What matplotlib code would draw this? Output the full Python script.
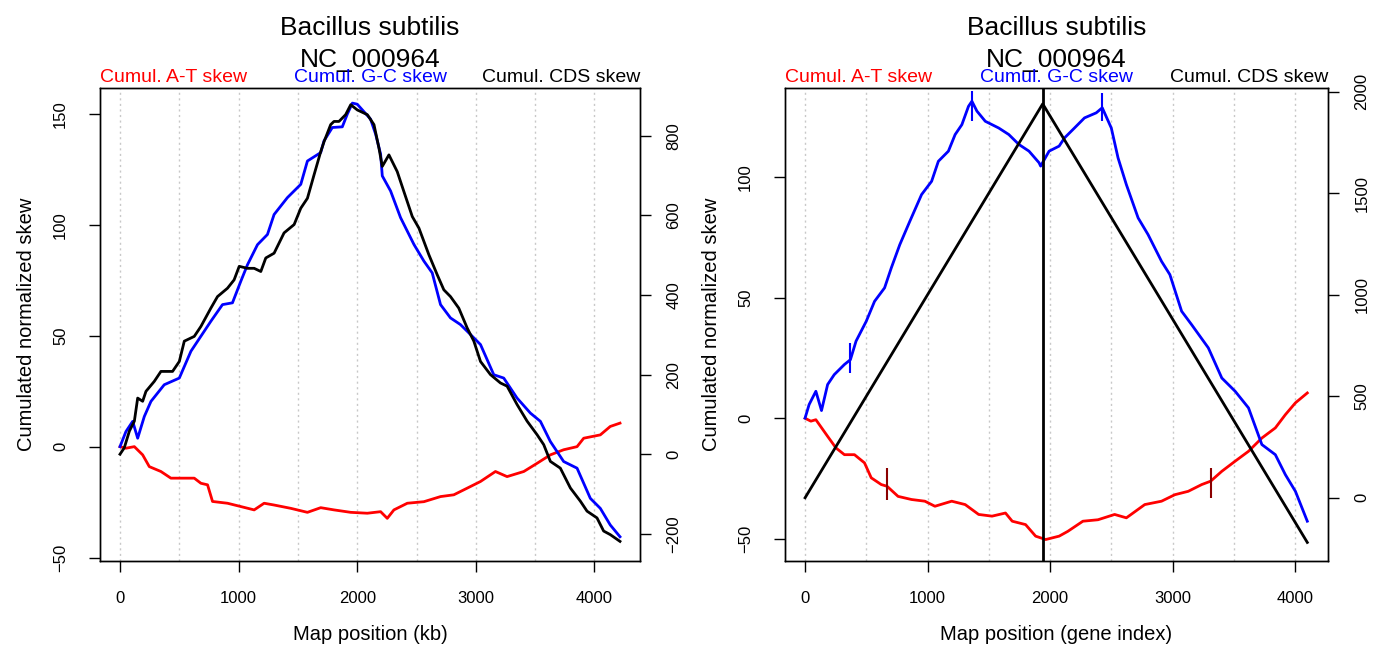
import matplotlib
matplotlib.use("Agg")
import matplotlib.pyplot as plt

plt.rcParams["font.family"] = ["Liberation Sans", "DejaVu Sans"]

# ---- left panel: map position in kb ----
at_kb_x = [0, 50, 121, 191, 247, 345, 429, 514, 626, 682, 738, 780, 906, 1019, 1131, 1215,
           1299, 1440, 1580, 1692, 1804, 1945, 2085, 2197, 2253, 2309, 2422, 2562, 2702,
           2814, 2927, 3039, 3165, 3263, 3404, 3516, 3628, 3740, 3853, 3909, 4049, 4133, 4215]
at_kb_y = [0, -0.7, 0, -3.7, -9, -11.2, -14.2, -14.2, -14.2, -16.5, -17.2, -24.7, -25.5, -27,
           -28.5, -25.5, -26.3, -27.8, -29.6, -27.5, -28.5, -29.6, -30, -29.3, -32.3, -28.5,
           -25.5, -24.8, -22.5, -21.7, -18.7, -15.7, -11.2, -13.5, -11.2, -7.5, -3.7, -1.4,
           0, 3.8, 5.3, 9.1, 10.6]

gc_kb_x = [0, 50, 107, 149, 205, 261, 373, 500, 598, 766, 864, 948, 1019, 1075, 1159, 1243,
           1299, 1411, 1524, 1580, 1692, 1720, 1790, 1874, 1916, 1959, 2000, 2112, 2155,
           2197, 2211, 2281, 2365, 2478, 2562, 2632, 2702, 2786, 2870, 2955, 3039, 3151,
           3235, 3347, 3460, 3544, 3628, 3740, 3853, 3965, 4049, 4133, 4215]
gc_kb_y = [0, 6.8, 11.4, 3.8, 13.6, 20.4, 27.9, 30.9, 43, 56.5, 64, 64.8, 74.6, 82, 91,
           95.6, 104.6, 112.2, 118.2, 128.7, 132.5, 137.8, 143.8, 144.1, 149.8, 154.8, 154.3,
           147.6, 140.8, 131.8, 122, 115.2, 103.2, 91.1, 83.6, 78.3, 64, 58, 55, 50.5, 46,
           32.4, 30.9, 21.9, 15.1, 11.4, 2.3, -6.7, -9.7, -23.3, -27.8, -35.3, -40.6]

cds_kb_x = [0, 36, 79, 121, 149, 191, 219, 289, 345, 443, 500, 542, 626, 682, 766, 822, 906,
            962, 1005, 1075, 1131, 1187, 1229, 1299, 1383, 1468, 1524, 1580, 1636, 1692,
            1720, 1776, 1804, 1846, 1902, 1945, 2000, 2085, 2141, 2183, 2211, 2267, 2337,
            2393, 2464, 2520, 2604, 2674, 2730, 2786, 2856, 2927, 2983, 3039, 3123, 3207,
            3263, 3347, 3432, 3516, 3572, 3628, 3712, 3797, 3881, 3937, 4021, 4077, 4133, 4215]
cds_kb_y = [0, 16, 58, 83, 141, 133, 158, 183, 208, 208, 233, 284, 296, 321, 367, 396, 417,
            438, 472, 467, 467, 459, 493, 505, 556, 577, 618, 643, 702, 760, 785, 828, 836,
            836, 853, 878, 865, 853, 828, 769, 723, 752, 710, 660, 597, 568, 501, 451, 413,
            396, 367, 317, 284, 233, 200, 179, 171, 125, 83, 49, 24, -18, -35, -85, -118,
            -143, -160, -193, -202, -219]

# ---- right panel: map position as gene index ----
at_gene_x = [0, 47, 88, 184, 252, 321, 403, 485, 540, 622, 669, 759, 869, 978, 1060, 1197,
             1307, 1417, 1526, 1636, 1691, 1800, 1882, 1964, 2074, 2145, 2268, 2391, 2527,
             2623, 2773, 2910, 3019, 3128, 3238, 3311, 3402, 3511, 3620, 3729, 3839, 3921,
             4003, 4100]
at_gene_y = [0, -1.2, -0.6, -7.5, -12.3, -15.1, -15.1, -18.5, -24.7, -27.5, -28.2, -32.4,
             -33.7, -34.4, -36.5, -34.4, -35.8, -39.9, -40.6, -39.3, -42.7, -44.1, -48.9,
             -50.3, -48.9, -46.9, -42.7, -42.1, -39.9, -41.3, -35.8, -34.4, -31.7, -30.3,
             -27.5, -26.1, -22, -17.8, -13.7, -8.2, -4, 1.5, 6.4, 10.5]

gc_gene_x = [0, 33, 88, 134, 184, 238, 321, 370, 416, 499, 567, 649, 704, 773, 855, 951,
             1033, 1088, 1170, 1225, 1280, 1334, 1362, 1403, 1471, 1581, 1663, 1745, 1828,
             1910, 1923, 1992, 2074, 2118, 2199, 2281, 2377, 2426, 2500, 2555, 2623, 2719,
             2800, 2910, 2978, 3074, 3156, 3292, 3402, 3511, 3620, 3729, 3839, 3921, 4003, 4100]
gc_gene_y = [0.1, 5.7, 11.2, 3.2, 14, 18.1, 22.3, 24.3, 32, 40.2, 48.5, 54.1, 62.4, 72, 81.7,
             92.8, 98.3, 106.6, 110.8, 117.7, 121.8, 129.4, 131.5, 127.4, 123.2, 120.4, 117.7,
             113.6, 110.8, 106, 104.6, 110.8, 112.9, 116.3, 120.4, 124.6, 126.7, 128.8, 120.4,
             108, 96.9, 83.1, 76.2, 65.1, 59.6, 44.4, 38.8, 29.2, 16.7, 11.2, 4.3, -10.9,
             -15.1, -23.4, -30.3, -42.7]

cds_gene_x = [0, 1940, 4100]
cds_gene_y = [0, 1940, -220]
origin_gene = 1940

gc_marks_x = [370, 1362, 2426]
gc_marks_lo = [18.8, 123.2, 123.2]
gc_marks_hi = [31.3, 135.7, 135.0]
at_marks_x = [669, 3311]
at_marks_lo = [-33.7, -33.1]
at_marks_hi = [-20.6, -20.6]

grid_x = [0, 500, 1000, 1500, 2000, 2500, 3000, 3500, 4000]
x_ticks = [0, 1000, 2000, 3000, 4000]

fig = plt.figure(figsize=(13.85, 6.54), dpi=100)
W, H = 1385, 654


def make_axes(left, right):
    return fig.add_axes([left / W, 1 - 560.5 / H, (right - left) / W, (560.5 - 88) / H])


def style(ax, side):
    ax.tick_params(axis="both", direction="out", length=8, width=1, labelsize=12, color="black")
    for sp in ax.spines.values():
        sp.set_linewidth(1)
        sp.set_color("black")
    if side == "left":
        ax.tick_params(axis="y", pad=15)
        for lab in ax.get_yticklabels():
            lab.set_rotation(90)
            lab.set_va("center")
    else:
        ax.tick_params(axis="y", pad=11)
        for lab in ax.get_yticklabels():
            lab.set_rotation(90)
            lab.set_va("center")


def header(ax):
    ax.annotate("Bacillus subtilis", xy=(0.5, 1), xycoords="axes fraction", xytext=(0, 38),
                textcoords="offset points", ha="center", va="baseline", fontsize=19)
    ax.annotate("NC_000964", xy=(0.5, 1), xycoords="axes fraction", xytext=(0, 15),
                textcoords="offset points", ha="center", va="baseline", fontsize=19)
    ax.annotate("Cumul. A-T skew", xy=(0, 1), xycoords="axes fraction", xytext=(0, 4),
                textcoords="offset points", ha="left", va="baseline", fontsize=14, color="red")
    ax.annotate("Cumul. G-C skew", xy=(0.5, 1), xycoords="axes fraction", xytext=(0, 4),
                textcoords="offset points", ha="center", va="baseline", fontsize=14, color="blue")
    ax.annotate("Cumul. CDS skew", xy=(1, 1), xycoords="axes fraction", xytext=(0, 4),
                textcoords="offset points", ha="right", va="baseline", fontsize=14, color="black")


# left panel
ax1 = make_axes(100, 640)
for g in grid_x:
    ax1.axvline(g, color="#c8c8c8", ls=(0, (1.5, 2.5)), lw=1, zorder=0)
ax1.plot(at_kb_x, at_kb_y, color="red", lw=2)
ax1.plot(gc_kb_x, gc_kb_y, color="blue", lw=2)
ax1.set_xlim(-168.6, 4383.6)
ax1.set_ylim(-51.3, 161.6)
ax1.set_xticks(x_ticks)
ax1.set_yticks([-50, 0, 50, 100, 150])
ax1.set_xlabel("Map position (kb)", fontsize=14.5, labelpad=14)
ax1.set_ylabel("Cumulated normalized skew", fontsize=14.5, labelpad=12)
ax1.tick_params(axis="x", pad=14)
ax1b = ax1.twinx()
ax1b.plot(cds_kb_x, cds_kb_y, color="black", lw=2)
ax1b.set_ylim(-267, 920)
ax1b.set_yticks([-200, 0, 200, 400, 600, 800])
style(ax1, "left")
style(ax1b, "right")
header(ax1)

# right panel
ax2 = make_axes(785, 1328)
for g in grid_x:
    ax2.axvline(g, color="#c8c8c8", ls=(0, (1.5, 2.5)), lw=1, zorder=0)
ax2.plot(at_gene_x, at_gene_y, color="red", lw=2)
ax2.plot(gc_gene_x, gc_gene_y, color="blue", lw=2)
ax2.vlines(gc_marks_x, gc_marks_lo, gc_marks_hi, color="blue", lw=1.5)
ax2.vlines(at_marks_x, at_marks_lo, at_marks_hi, color="#8b0000", lw=1.5)
ax2.set_xlim(-164, 4269)
ax2.set_ylim(-59, 137)
ax2.set_xticks(x_ticks)
ax2.set_yticks([-50, 0, 50, 100])
ax2.set_xlabel("Map position (gene index)", fontsize=14.5, labelpad=14)
ax2.set_ylabel("Cumulated normalized skew", fontsize=14.5, labelpad=12)
ax2.tick_params(axis="x", pad=14)
ax2b = ax2.twinx()
ax2b.plot(cds_gene_x, cds_gene_y, color="black", lw=2)
ax2b.axvline(origin_gene, color="black", lw=2)
ax2b.set_ylim(-309, 2018)
ax2b.set_yticks([0, 500, 1000, 1500, 2000])
style(ax2, "left")
style(ax2b, "right")
header(ax2)

fig.savefig("out.png", dpi=100)
